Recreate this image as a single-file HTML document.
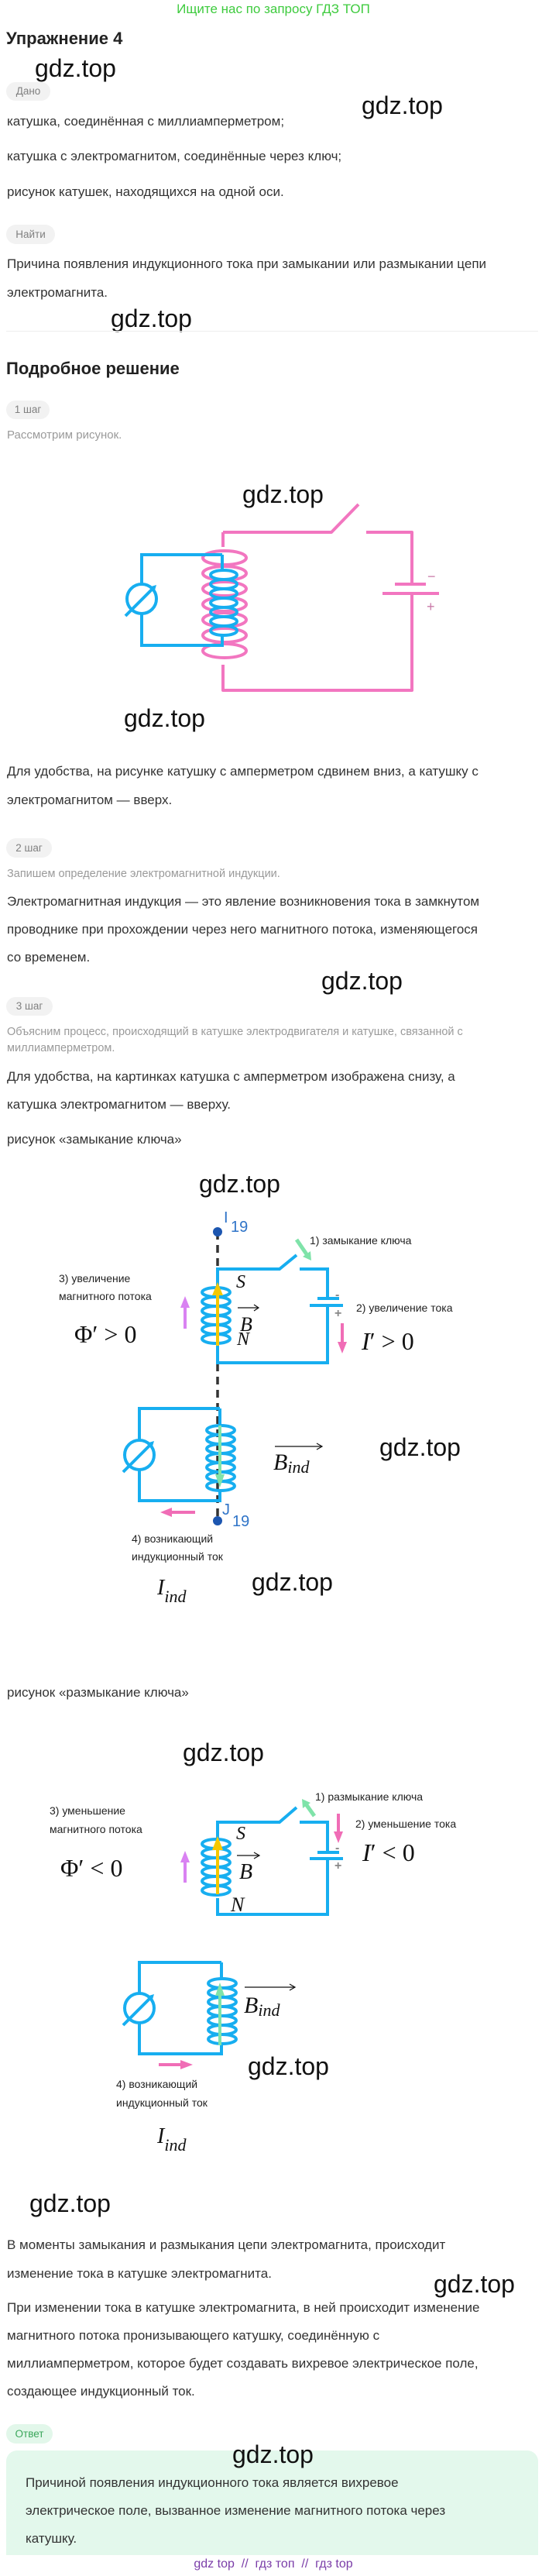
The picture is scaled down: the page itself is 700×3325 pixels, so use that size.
<!DOCTYPE html>
<html><head><meta charset="utf-8">
<style>
html,body{margin:0;padding:0;background:#fff;}
body{width:700px;height:3325px;position:relative;overflow:hidden;font-family:"Liberation Sans",Arial,sans-serif;}
.t{position:absolute;white-space:nowrap;line-height:22px;font-size:17px;color:#333;}
.g{position:absolute;white-space:nowrap;line-height:36px;font-size:32px;color:#111;}
.gr{position:absolute;white-space:nowrap;line-height:20px;font-size:14.5px;color:#9a9a9a;}
.pill{position:absolute;background:#f2f2f2;border-radius:13px;color:#808080;font-size:13.5px;text-align:center;}
.h{position:absolute;white-space:nowrap;font-weight:bold;font-size:22px;line-height:28px;color:#222;}
.lb{position:absolute;white-space:nowrap;font-size:14px;line-height:18px;color:#222;}
svg{position:absolute;left:0;top:0;}
</style></head><body>

<div class="t" style="left:0;width:706px;text-align:center;top:1px;color:#3ecb3e;font-size:17px;">Ищите нас по запросу ГДЗ ТОП</div>
<div class="h" style="left:8px;top:36px;">Упражнение 4</div>
<div class="g" style="left:45px;top:70px;">gdz.top</div>
<div class="pill" style="left:8px;top:106px;width:57px;height:24px;line-height:24px;">Дано</div>
<div class="g" style="left:467px;top:118px;">gdz.top</div>
<div class="t" style="left:9px;top:146px;">катушка, соединённая с миллиамперметром;</div>
<div class="t" style="left:9px;top:191px;">катушка с электромагнитом, соединённые через ключ;</div>
<div class="t" style="left:9px;top:237px;">рисунок катушек, находящихся на одной оси.</div>
<div class="pill" style="left:8px;top:290px;width:63px;height:25px;line-height:25px;">Найти</div>
<div class="t" style="left:9px;top:330px;">Причина появления индукционного тока при замыкании или размыкании цепи</div>
<div class="t" style="left:9px;top:367px;">электромагнита.</div>
<div class="g" style="left:143px;top:393px;">gdz.top</div>
<div style="position:absolute;left:8px;top:427px;width:687px;height:1px;background:#eee;"></div>
<div class="h" style="left:8px;top:462px;">Подробное решение</div>
<div class="pill" style="left:8px;top:517px;width:56px;height:24px;line-height:24px;">1 шаг</div>
<div class="gr" style="left:9px;top:552px;font-size:15px;">Рассмотрим рисунок.</div>
<div class="g" style="left:313px;top:620px;">gdz.top</div>
<div class="g" style="left:160px;top:909px;">gdz.top</div>
<div class="t" style="left:9px;top:985px;">Для удобства, на рисунке катушку с амперметром сдвинем вниз, а катушку с</div>
<div class="t" style="left:9px;top:1022px;">электромагнитом — вверх.</div>
<div class="pill" style="left:8px;top:1082px;width:59px;height:25px;line-height:25px;">2 шаг</div>
<div class="gr" style="left:9px;top:1118px;">Запишем определение электромагнитной индукции.</div>
<div class="t" style="left:9px;top:1153px;">Электромагнитная индукция — это явление возникновения тока в замкнутом</div>
<div class="t" style="left:9px;top:1189px;">проводнике при прохождении через него магнитного потока, изменяющегося</div>
<div class="t" style="left:9px;top:1225px;">со временем.</div>
<div class="g" style="left:415px;top:1248px;">gdz.top</div>
<div class="pill" style="left:8px;top:1287px;width:60px;height:24px;line-height:24px;">3 шаг</div>
<div class="gr" style="left:9px;top:1322px;">Объясним процесс, происходящий в катушке электродвигателя и катушке, связанной с</div>
<div class="gr" style="left:9px;top:1343px;">миллиамперметром.</div>
<div class="t" style="left:9px;top:1379px;">Для удобства, на картинках катушка с амперметром изображена снизу, а</div>
<div class="t" style="left:9px;top:1415px;">катушка электромагнитом — вверху.</div>
<div class="t" style="left:9px;top:1460px;">рисунок «замыкание ключа»</div>
<div class="g" style="left:257px;top:1510px;">gdz.top</div>

<div class="lb" style="left:76px;top:1641px;">3) увеличение</div>
<div class="lb" style="left:76px;top:1664px;">магнитного потока</div>
<div class="lb" style="left:400px;top:1592px;">1) замыкание ключа</div>
<div class="lb" style="left:460px;top:1679px;">2) увеличение тока</div>
<div class="g" style="left:490px;top:1850px;">gdz.top</div>
<div class="lb" style="left:170px;top:1977px;">4) возникающий</div>
<div class="lb" style="left:170px;top:2000px;">индукционный ток</div>
<div class="g" style="left:325px;top:2024px;">gdz.top</div>
<div class="t" style="left:9px;top:2174px;">рисунок «размыкание ключа»</div>
<div class="g" style="left:236px;top:2244px;">gdz.top</div>
<div class="lb" style="left:64px;top:2328px;">3) уменьшение</div>
<div class="lb" style="left:64px;top:2352px;">магнитного потока</div>
<div class="lb" style="left:407px;top:2310px;">1) размыкание ключа</div>
<div class="lb" style="left:459px;top:2345px;">2) уменьшение тока</div>
<div class="g" style="left:320px;top:2649px;">gdz.top</div>
<div class="lb" style="left:150px;top:2681px;">4) возникающий</div>
<div class="lb" style="left:150px;top:2705px;">индукционный ток</div>
<div class="g" style="left:38px;top:2826px;">gdz.top</div>
<div class="t" style="left:9px;top:2887px;">В моменты замыкания и размыкания цепи электромагнита, происходит</div>
<div class="t" style="left:9px;top:2924px;">изменение тока в катушке электромагнита.</div>
<div class="g" style="left:560px;top:2930px;">gdz.top</div>
<div class="t" style="left:9px;top:2968px;">При изменении тока в катушке электромагнита, в ней происходит изменение</div>
<div class="t" style="left:9px;top:3004px;">магнитного потока пронизывающего катушку, соединённую с</div>
<div class="t" style="left:9px;top:3040px;">миллиамперметром, которое будет создавать вихревое электрическое поле,</div>
<div class="t" style="left:9px;top:3076px;">создающее индукционный ток.</div>
<div class="pill" style="left:8px;top:3129px;width:60px;height:25px;line-height:25px;background:#e2f7ea;color:#3aa65a;">Ответ</div>
<div style="position:absolute;left:8px;top:3163px;width:687px;height:135px;background:#e3f8ec;border-radius:14px 14px 0 0;"></div>
<div class="g" style="left:300px;top:3150px;">gdz.top</div>
<div class="t" style="left:33px;top:3194px;">Причиной появления индукционного тока является вихревое</div>
<div class="t" style="left:33px;top:3230px;">электрическое поле, вызванное изменение магнитного потока через</div>
<div class="t" style="left:33px;top:3266px;">катушку.</div>
<div class="t" style="left:0;width:706px;text-align:center;top:3299px;color:#7a3da8;font-size:16px;">gdz top &nbsp;// &nbsp;гдз топ &nbsp;// &nbsp;гдз top</div>

<svg width="700" height="3325" viewBox="0 0 700 3325" xmlns="http://www.w3.org/2000/svg">
<defs>
<g id="amm">
<circle cx="0" cy="0" r="19" fill="#fff" stroke="#17aef0" stroke-width="4"/>
<line x1="-21" y1="22" x2="13" y2="-12" stroke="#17aef0" stroke-width="4"/>
<polygon points="19,-18 16,-8 9,-15" fill="#17aef0"/>
</g>
</defs>

<!-- Diagram 0 -->
<g fill="none" stroke="#f276c0" stroke-width="4" stroke-linejoin="round">
<path d="M288,687 H428 L463,651 M473,687 H532 V754 M532,766 V891 H288 V858"/>
<path d="M288,687 V706"/>
<ellipse cx="290" cy="720" rx="28" ry="9"/><ellipse cx="290" cy="740" rx="28" ry="9"/>
<ellipse cx="290" cy="760" rx="28" ry="9"/><ellipse cx="290" cy="780" rx="28" ry="9"/>
<ellipse cx="290" cy="800" rx="28" ry="9"/><ellipse cx="290" cy="820" rx="28" ry="9"/>
<ellipse cx="290" cy="840" rx="28" ry="9"/>
<path d="M510,754 H550 M494,766 H567"/>
</g>
<text x="552" y="750" font-size="18" fill="#c97aa8" font-family="Liberation Sans">−</text>
<text x="551" y="789" font-size="18" fill="#c97aa8" font-family="Liberation Sans">+</text>
<g fill="none" stroke="#17aef0" stroke-width="4">
<path d="M287,716 H183 V833 H287 V818 M287,716 V736"/>
<ellipse cx="289" cy="742" rx="17" ry="6"/><ellipse cx="289" cy="754" rx="17" ry="6"/>
<ellipse cx="289" cy="766" rx="17" ry="6"/><ellipse cx="289" cy="778" rx="17" ry="6"/>
<ellipse cx="289" cy="790" rx="17" ry="6"/><ellipse cx="289" cy="802" rx="17" ry="6"/>
<ellipse cx="289" cy="814" rx="17" ry="6"/>
</g>
<use href="#amm" x="183" y="773"/>

<!-- Diagram 1 -->
<line x1="281" y1="1590" x2="281" y2="1963" stroke="#333" stroke-width="3.5" stroke-dasharray="10,7"/>
<circle cx="281" cy="1590" r="6" fill="#1c56b0"/>
<circle cx="281" cy="1963" r="6" fill="#1c56b0"/>
<text x="289" y="1578" font-size="20" fill="#2f74c8" font-family="Liberation Sans">I</text>
<text x="298" y="1590" font-size="20" fill="#2f74c8" font-family="Liberation Sans">19</text>
<text x="287" y="1955" font-size="20" fill="#2f74c8" font-family="Liberation Sans">J</text>
<text x="300" y="1970" font-size="20" fill="#2f74c8" font-family="Liberation Sans">19</text>
<g fill="none" stroke="#17aef0" stroke-width="4">
<path d="M281,1660 V1638 H361 L383,1620 M387,1638 H423 V1676 M423,1685 V1759 H281 V1734"/>
<path d="M410,1676 H438 M400,1685 H443"/>
<ellipse cx="279" cy="1668" rx="18" ry="6"/><ellipse cx="279" cy="1680" rx="18" ry="6"/>
<ellipse cx="279" cy="1692" rx="18" ry="6"/><ellipse cx="279" cy="1704" rx="18" ry="6"/>
<ellipse cx="279" cy="1716" rx="18" ry="6"/><ellipse cx="279" cy="1728" rx="18" ry="6"/>
<path d="M284,1818 H180 V1937 H284 V1924 M284,1818 V1840"/>
<ellipse cx="285" cy="1846" rx="18" ry="6"/><ellipse cx="285" cy="1858" rx="18" ry="6"/>
<ellipse cx="285" cy="1870" rx="18" ry="6"/><ellipse cx="285" cy="1882" rx="18" ry="6"/>
<ellipse cx="285" cy="1894" rx="18" ry="6"/><ellipse cx="285" cy="1906" rx="18" ry="6"/>
<ellipse cx="285" cy="1918" rx="18" ry="6"/>
</g>
<use href="#amm" x="180" y="1878"/>
<text x="433" y="1676" font-size="16" fill="#888" font-family="Liberation Sans" font-weight="bold">-</text>
<text x="432" y="1700" font-size="16" fill="#888" font-family="Liberation Sans" font-weight="bold">+</text>
<line x1="281" y1="1737" x2="281" y2="1668" stroke="#f5c800" stroke-width="4"/>
<polygon points="274,1672 288,1672 281,1655" fill="#f5c800"/>
<line x1="383" y1="1600" x2="396" y2="1619" stroke="#7fe3a9" stroke-width="5"/>
<polygon points="402,1627 391,1622 401,1615" fill="#7fe3a9"/>
<line x1="239" y1="1715" x2="239" y2="1686" stroke="#d982f2" stroke-width="4"/>
<polygon points="233,1688 245,1688 239,1673" fill="#d982f2"/>
<line x1="442" y1="1708" x2="442" y2="1734" stroke="#f06db6" stroke-width="4"/>
<polygon points="436,1732 448,1732 442,1747" fill="#f06db6"/>
<line x1="284" y1="1840" x2="284" y2="1905" stroke="#7fe3a9" stroke-width="4"/>
<polygon points="278,1903 290,1903 284,1920" fill="#7fe3a9"/>
<line x1="252" y1="1952" x2="220" y2="1952" stroke="#f06db6" stroke-width="4"/>
<polygon points="222,1946 222,1958 207,1952" fill="#f06db6"/>
<g font-family="Liberation Serif" fill="#111">
<text x="305" y="1662" font-size="24" font-style="italic">S</text>
<line x1="307" y1="1688" x2="333" y2="1688" stroke="#111" stroke-width="1.2"/>
<polyline points="328,1684 334,1688 328,1692" fill="none" stroke="#111" stroke-width="1.2"/>
<text x="310" y="1718" font-size="26" font-style="italic">B</text>
<text x="306" y="1736" font-size="24" font-style="italic">N</text>
<text x="96" y="1733" font-size="32">Φ′ &gt; 0</text>
<text x="467" y="1742" font-size="32"><tspan font-style="italic">I</tspan>′ &gt; 0</text>
<line x1="355" y1="1867" x2="415" y2="1867" stroke="#111" stroke-width="1.2"/>
<polyline points="409,1863 416,1867 409,1871" fill="none" stroke="#111" stroke-width="1.2"/>
<text x="353" y="1897" font-size="30" font-style="italic">B<tspan font-size="22" dy="4">ind</tspan></text>
<text x="203" y="2058" font-size="28" font-style="italic">I<tspan font-size="22" dy="10">ind</tspan></text>
</g>

<!-- Diagram 2 -->
<g fill="none" stroke="#17aef0" stroke-width="4">
<path d="M281,2373 V2352 H361 L383,2333 M387,2352 H423 V2391 M423,2399 V2471 H281 V2450"/>
<path d="M410,2391 H438 M400,2399 H443"/>
<ellipse cx="279" cy="2380" rx="18" ry="6"/><ellipse cx="279" cy="2392" rx="18" ry="6"/>
<ellipse cx="279" cy="2404" rx="18" ry="6"/><ellipse cx="279" cy="2416" rx="18" ry="6"/>
<ellipse cx="279" cy="2428" rx="18" ry="6"/><ellipse cx="279" cy="2440" rx="18" ry="6"/>
<path d="M286,2533 H180 V2651 H286 V2640 M286,2533 V2553"/>
<ellipse cx="287" cy="2560" rx="18" ry="6"/><ellipse cx="287" cy="2572" rx="18" ry="6"/>
<ellipse cx="287" cy="2584" rx="18" ry="6"/><ellipse cx="287" cy="2596" rx="18" ry="6"/>
<ellipse cx="287" cy="2608" rx="18" ry="6"/><ellipse cx="287" cy="2620" rx="18" ry="6"/>
<ellipse cx="287" cy="2632" rx="18" ry="6"/>
</g>
<use href="#amm" x="180" y="2592"/>
<text x="433" y="2390" font-size="16" fill="#888" font-family="Liberation Sans" font-weight="bold">-</text>
<text x="432" y="2413" font-size="16" fill="#888" font-family="Liberation Sans" font-weight="bold">+</text>
<line x1="281" y1="2445" x2="281" y2="2385" stroke="#f5c800" stroke-width="4"/>
<polygon points="274,2388 288,2388 281,2370" fill="#f5c800"/>
<line x1="406" y1="2344" x2="396" y2="2330" stroke="#7fe3a9" stroke-width="5"/>
<polygon points="390,2322 401,2327 391,2334" fill="#7fe3a9"/>
<line x1="239" y1="2430" x2="239" y2="2402" stroke="#d982f2" stroke-width="4"/>
<polygon points="233,2404 245,2404 239,2389" fill="#d982f2"/>
<line x1="437" y1="2341" x2="437" y2="2366" stroke="#f06db6" stroke-width="4"/>
<polygon points="431,2364 443,2364 437,2379" fill="#f06db6"/>
<line x1="284" y1="2640" x2="284" y2="2574" stroke="#7fe3a9" stroke-width="4"/>
<polygon points="278,2576 290,2576 284,2559" fill="#7fe3a9"/>
<line x1="205" y1="2665" x2="235" y2="2665" stroke="#f06db6" stroke-width="4"/>
<polygon points="233,2659 233,2671 249,2665" fill="#f06db6"/>
<g font-family="Liberation Serif" fill="#111">
<text x="305" y="2374" font-size="24" font-style="italic">S</text>
<line x1="306" y1="2395" x2="334" y2="2395" stroke="#111" stroke-width="1.2"/>
<polyline points="328,2391 335,2395 328,2399" fill="none" stroke="#111" stroke-width="1.2"/>
<text x="309" y="2425" font-size="28" font-style="italic">B</text>
<text x="298" y="2467" font-size="26" font-style="italic">N</text>
<text x="78" y="2422" font-size="32">Φ′ &lt; 0</text>
<text x="468" y="2402" font-size="32"><tspan font-style="italic">I</tspan>′ &lt; 0</text>
<line x1="316" y1="2565" x2="380" y2="2565" stroke="#111" stroke-width="1.2"/>
<polyline points="374,2561 381,2565 374,2569" fill="none" stroke="#111" stroke-width="1.2"/>
<text x="315" y="2598" font-size="30" font-style="italic">B<tspan font-size="22" dy="4">ind</tspan></text>
<text x="203" y="2766" font-size="28" font-style="italic">I<tspan font-size="22" dy="10">ind</tspan></text>
</g>
</svg>
</body></html>
